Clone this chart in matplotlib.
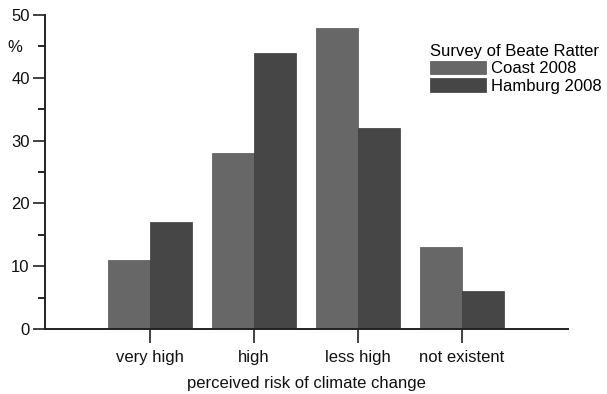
import matplotlib.pyplot as plt
import numpy as np

plt.rcParams['font.family'] = ['Liberation Sans', 'DejaVu Sans']

categories = ['very high', 'high', 'less high', 'not existent']
coast_2008 = [11, 28, 48, 13]
hamburg_2008 = [17, 44, 32, 6]

x = np.arange(len(categories))
w = 0.4
fs = 12

fig = plt.figure(figsize=(6.07, 3.94), dpi=100)
ax = fig.add_axes([0.074, 0.165, 0.862, 0.797])

ax.bar(x - w/2, coast_2008, w, color='#676767', edgecolor='#555555', linewidth=0.5, label='Coast 2008')
ax.bar(x + w/2, hamburg_2008, w, color='#464646', edgecolor='#3a3a3a', linewidth=0.5, label='Hamburg 2008')

ax.set_xlim(-1.01, 4.02)
ax.set_ylim(0, 50)
ax.set_yticks([0, 10, 20, 30, 40, 50])
ax.set_yticks(np.arange(5, 50, 10), minor=True)
ax.set_xticks(x)
ax.set_xticklabels(categories)
ax.tick_params(axis='both', labelsize=fs, width=1.2, color='#222222', labelcolor='#111111')
ax.tick_params(axis='y', which='major', length=9, pad=2)
ax.tick_params(axis='y', which='minor', length=5, width=1.2)
ax.tick_params(axis='x', length=10, pad=5)

for s in ['top', 'right']:
    ax.spines[s].set_visible(False)
for s in ['left', 'bottom']:
    ax.spines[s].set_linewidth(1.4)
    ax.spines[s].set_color('#222222')

ax.set_xlabel('perceived risk of climate change', fontsize=fs, labelpad=8, color='#111111')
ax.text(-0.058, 0.895, '%', transform=ax.transAxes, fontsize=fs, ha='center', va='center', color='#111111')

leg = ax.legend(title='Survey of Beate Ratter', loc='upper left', bbox_to_anchor=(0.713, 0.945),
                frameon=False, fontsize=fs, title_fontsize=fs, alignment='left',
                handlelength=3.4, handleheight=0.9, handletextpad=0.3, labelspacing=0.1,
                borderpad=0.2)

fig.savefig('out.png', dpi=100)
